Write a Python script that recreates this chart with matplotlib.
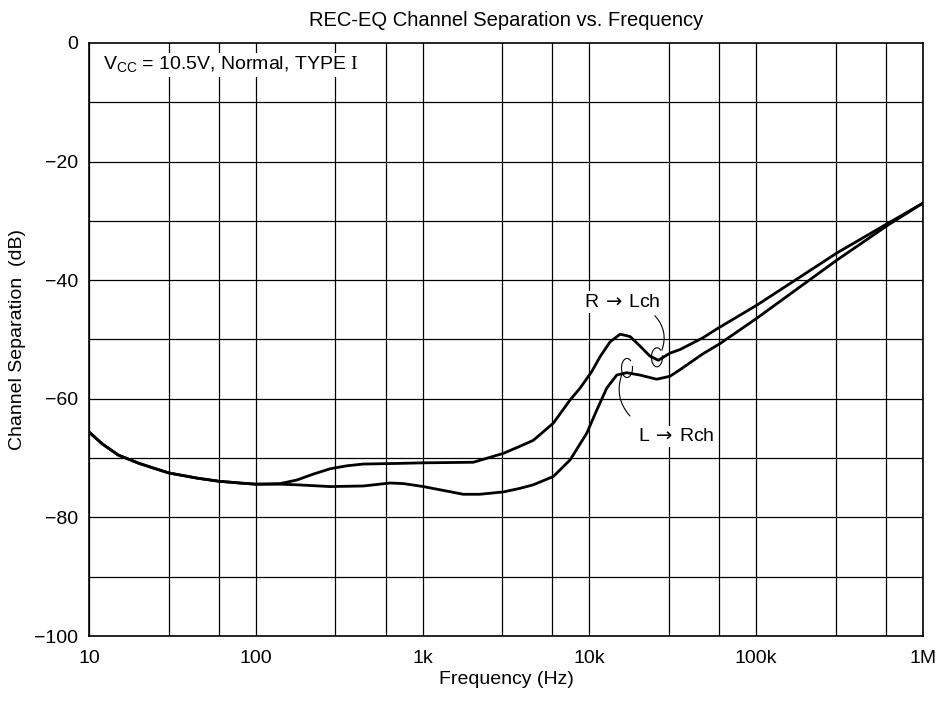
import matplotlib
matplotlib.use("Agg")
import matplotlib.pyplot as plt
from matplotlib.patches import Arc
from matplotlib.transforms import ScaledTranslation
from matplotlib.ticker import FixedLocator, NullLocator

plt.rcParams['font.family'] = ['Liberation Sans', 'DejaVu Sans']
plt.rcParams['mathtext.fontset'] = 'custom'
plt.rcParams['mathtext.rm'] = 'Liberation Sans'
plt.rcParams['mathtext.sf'] = 'DejaVu Sans'
plt.rcParams['mathtext.cal'] = 'Liberation Serif'

# R -> Lch (upper curve above ~140 Hz)
freq_rl = [10, 12, 15, 20, 30, 45, 60, 80, 100, 140, 176, 221, 279, 351, 442, 700, 1000,
           2014, 3050, 3837, 4610, 6080, 7660, 8790, 10330, 11580, 13300, 15280, 17520,
           20100, 23060, 25900, 30400, 34900, 48000, 58200, 101000, 305000, 617000, 1000000]
sep_rl = [-65.6, -67.6, -69.5, -70.9, -72.5, -73.4, -73.9, -74.2, -74.4, -74.3, -73.7, -72.7,
          -71.8, -71.3, -71.0, -70.9, -70.8, -70.7, -69.2, -68.0, -67.0, -64.1, -60.2, -58.2,
          -55.4, -52.9, -50.4, -49.1, -49.5, -51.1, -52.8, -53.5, -52.3, -51.7, -49.7, -48.2,
          -44.2, -35.4, -30.4, -27.0]

# L -> Rch (lower curve)
freq_lr = [10, 12, 15, 20, 30, 45, 60, 80, 100, 140, 176, 279, 442, 638, 768, 1010, 1754,
           2200, 3050, 3837, 4610, 6080, 7660, 9640, 11070, 12700, 14580, 16720, 20100,
           25300, 30400, 34900, 48000, 60600, 101000, 305000, 617000, 1000000]
sep_lr = [-65.6, -67.6, -69.5, -70.9, -72.5, -73.4, -73.9, -74.2, -74.4, -74.4, -74.5, -74.8,
          -74.7, -74.2, -74.3, -74.8, -76.1, -76.1, -75.7, -75.1, -74.5, -73.1, -70.3, -65.8,
          -61.9, -58.2, -56.0, -55.6, -56.0, -56.7, -56.2, -55.1, -52.4, -50.7, -46.4, -36.6,
          -30.7, -27.0]

x_ticks = [10, 100, 1000, 10000, 100000, 1000000]
x_tick_labels = ['10', '100', '1k', '10k', '100k', '1M']
x_grid = [10 * 10 ** d * m for d in range(5) for m in (1, 3, 6)] + [1000000]
y_ticks = [0, -20, -40, -60, -80, -100]
y_tick_labels = ['0', '\u221220', '\u221240', '\u221260', '\u221280', '\u2212100']

fig = plt.figure(figsize=(9.46, 7.01), dpi=100)
ax = fig.add_axes([0.0941, 0.0927, 0.8816, 0.846])

ax.set_xscale('log')
ax.set_xlim(10, 1000000)
ax.set_ylim(-100, 0)

for xv in x_grid:
    ax.axvline(xv, color='black', lw=0.9, zorder=1)
for yv in range(-90, 0, 10):
    ax.axhline(yv, color='black', lw=0.9, zorder=1)

ax.plot(freq_rl, sep_rl, color='black', lw=2.0, zorder=3, solid_joinstyle='round')
ax.plot(freq_lr, sep_lr, color='black', lw=2.0, zorder=3, solid_joinstyle='round')

ax.xaxis.set_major_locator(FixedLocator(x_ticks))
ax.xaxis.set_minor_locator(NullLocator())
ax.set_xticklabels(x_tick_labels)
ax.set_yticks(y_ticks)
ax.set_yticklabels(y_tick_labels)
ax.tick_params(axis='x', length=0, labelsize=14, pad=10)
ax.tick_params(axis='y', length=0, labelsize=14, pad=8)
for s in ax.spines.values():
    s.set_linewidth(1.2)

ax.set_xlabel('Frequency (Hz)', fontsize=14, labelpad=3)
ax.set_ylabel('Channel Separation  (dB)', fontsize=14, labelpad=6)
ax.set_title('REC-EQ Channel Separation vs. Frequency', fontsize=14.5, pad=12)

box = dict(facecolor='white', edgecolor='none', pad=1.5)
ax.text(0.017, 0.963, 'V$_{\\mathrm{CC}}$ = 10.5V, Normal, TYPE $\\mathcal{I}$',
        transform=ax.transAxes, fontsize=14, ha='left', va='center', bbox=box, zorder=4)

ax.text(15670, -43.7, 'R$\\,\\mathsf{\\rightarrow}\\,$Lch', fontsize=14, ha='center',
        va='center', bbox=box, zorder=4)
ax.text(33000, -66.3, 'L$\\,\\mathsf{\\rightarrow}\\,$Rch', fontsize=14, ha='center',
        va='center', bbox=box, zorder=4)

# leader lines with small loops
ax.annotate('', xy=(27200, -51.8), xytext=(24700, -46.0),
            arrowprops=dict(arrowstyle='-', lw=0.8, color='black',
                            connectionstyle='arc3,rad=-0.3', shrinkA=0, shrinkB=0), zorder=4)
ax.annotate('', xy=(15700, -55.8), xytext=(17500, -62.9),
            arrowprops=dict(arrowstyle='-', lw=0.8, color='black',
                            connectionstyle='arc3,rad=-0.3', shrinkA=0, shrinkB=0), zorder=4)
for cx, cy in [(25400, -53.0), (16800, -54.8)]:
    tr = fig.dpi_scale_trans + ScaledTranslation(cx, cy, ax.transData)
    ax.add_patch(Arc((0, 0), 0.11, 0.19, theta1=60, theta2=380, transform=tr,
                     color='black', lw=0.8, zorder=4))

fig.savefig('out.png', dpi=100)
